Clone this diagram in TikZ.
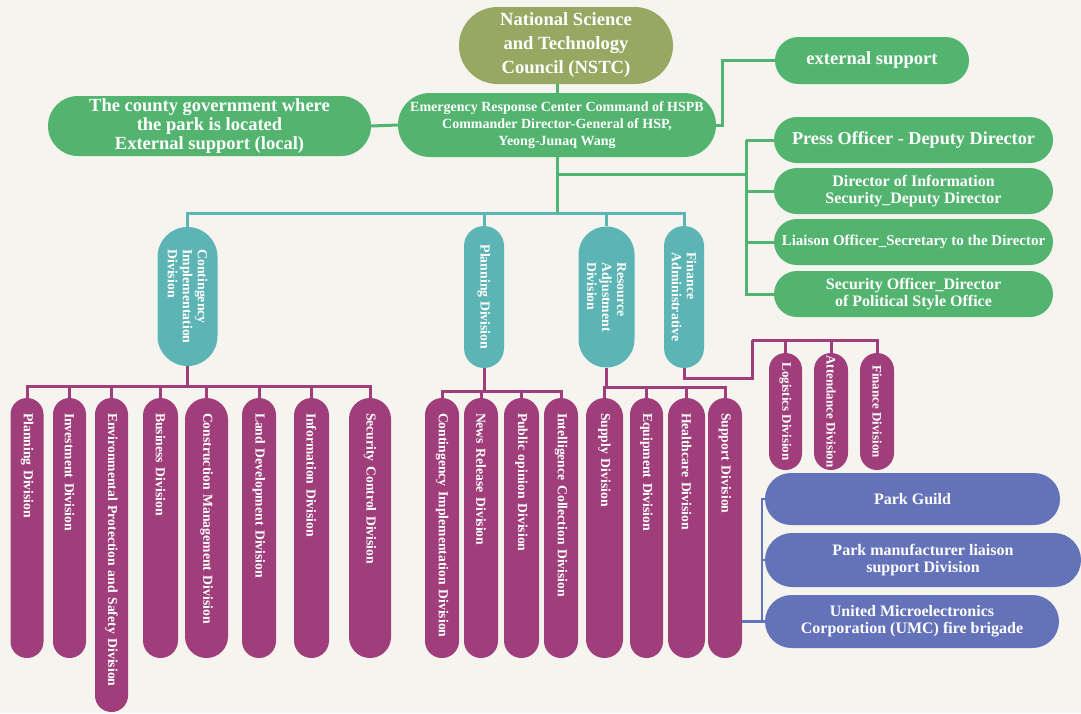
\documentclass[tikz,border=0pt]{standalone}
\usepackage{fontspec}
\setmainfont{Liberation Serif}
\definecolor{bg}{RGB}{246,244,239}
\definecolor{olv}{RGB}{151,168,98}
\definecolor{grn}{RGB}{82,180,111}
\definecolor{tea}{RGB}{92,180,181}
\definecolor{pur}{RGB}{160,62,123}
\definecolor{blu}{RGB}{99,114,185}
\tikzset{
  nd/.style={rectangle, inner sep=0pt, text=white, align=center},
  sz/.style 2 args={minimum width=#1pt, minimum height=#2pt, rounded corners={#2pt/2-0.05pt}},
  tk/.style={minimum height=#1pt, rounded corners={#1pt/2-0.05pt}},
  fs/.style 2 args={font=\bfseries\fontsize{#1}{#2}\selectfont},
  gbox/.style={nd, fill=grn},
  bbox/.style={nd, fill=blu, fs={16}{16.7}},
  vt/.style={nd, fill=tea, rotate=-90, align=left, fs={13.8}{15}},
  vp/.style={nd, fill=pur, rotate=-90, align=left, fs={13.7}{15}, inner xsep=15pt, minimum width=260pt, text width=230pt},
  vs/.style={nd, fill=pur, rotate=-90, align=left, fs={13}{15}, minimum width=117pt},
  gl/.style={draw=grn, line width=3pt},
  tl/.style={draw=tea, line width=3pt},
  pl/.style={draw=pur, line width=3pt},
  bl/.style={draw=blu, line width=2.5pt},
}
\begin{document}
\begin{tikzpicture}[x=1pt,y=-1pt]
\useasboundingbox (0,0) rectangle (1081,713);
\fill[bg] (0,0) rectangle (1081,713);

% top level
\node[nd, fill=olv, sz={214}{77}, fs={18.6}{24}] (nstc) at (566,45.5) {National Science\\and Technology\\Council (NSTC)};
\node[gbox, sz={318}{64}, fs={14}{17}] (em) at (557,125) {Emergency Response Center Command of HSPB\\Commander Director-General of HSP,\\Yeong-Junaq Wang};
\node[gbox, sz={323}{60}, fs={18.5}{19}] (cg) at (209.5,126) {The county government where\\the park is located\\External support (local)};
\node[gbox, sz={194}{47}, fs={18.5}{19}] (es) at (872,60.5) {external support};

% right green group
\node[gbox, sz={279}{46}, fs={18.2}{19}] (po) at (913.5,140) {Press Officer - Deputy Director};
\node[gbox, sz={279}{46}, fs={16}{16.5}] (di) at (913.5,191) {Director of Information\\Security\_Deputy Director};
\node[gbox, sz={279}{46}, fs={15}{16}] (lo) at (913.5,242) {Liaison Officer\_Secretary to the Director};
\node[gbox, sz={279}{46}, fs={16}{16.5}] (so) at (913.5,294) {Security Officer\_Director\\of Political Style Office};

% teal divisions
\node[vt, minimum width=139pt, tk=60] (cid) at (187.5,296.5) {Contingency\\Implementation\\Division};
\node[vt, minimum width=142pt, tk=40] (pd) at (484,297) {Planning Division};
\node[vt, minimum width=141pt, tk=56] (rad) at (606.5,297) {Resource\\Adjustment\\Division};
\node[vt, minimum width=142pt, tk=40] (fa) at (684,297) {Finance\\Administrative};

% purple under Contingency Implementation Division
\node[vp, tk=33] (p1) at (27,528) {Planning Division};
\node[vp, tk=33] (p2) at (69.5,528) {Investment Division};
\node[vp, tk=33, minimum width=314pt, text width=284pt] (p3) at (111.5,555) {Environmental Protection and Safety Division};
\node[vp, tk=35] (p4) at (160.5,528) {Business Division};
\node[vp, tk=43] (p5) at (206.5,528) {Construction Management Division};
\node[vp, tk=34] (p6) at (259,528) {Land Development Division};
\node[vp, tk=35] (p7) at (311.5,528) {Information Division};
\node[vp, tk=42] (p8) at (370,528) {Security Control Division};
% purple under Planning Division
\node[vp, tk=34] (q1) at (442,528) {Contingency Implementation Division};
\node[vp, tk=34] (q2) at (481,528) {News Release Division};
\node[vp, tk=35] (q3) at (521.5,528) {Public opinion Division};
\node[vp, tk=34] (q4) at (561,528) {Intelligence Collection Division};
% purple under Resource Adjustment Division
\node[vp, tk=37] (r1) at (604.5,528) {Supply Division};
\node[vp, tk=33] (r2) at (646.5,528) {Equipment Division};
\node[vp, tk=37] (r3) at (686.5,528) {Healthcare Division};
\node[vp, tk=34] (r4) at (725,528) {Support Division};
% purple under Finance Administrative
\node[vs, tk=33] (f1) at (785.5,411.5) {Logistics Division};
\node[vs, tk=34] (f2) at (831,411.5) {Attendance Division};
\node[vs, tk=34] (f3) at (877,411.5) {Finance Division};

% blue
\node[bbox, sz={295}{52}] (pg) at (912.5,499) {Park Guild};
\node[bbox, sz={316}{54}] (pm) at (923,560) {Park manufacturer liaison\\support Division};
\node[bbox, sz={294}{53}] (um) at (912,621.5) {United Microelectronics\\Corporation (UMC) fire brigade};

% green connectors
\draw[gl] (em.north) -- (em.north |- nstc.south);
\draw[gl] (cg.east) -- (em.west);
\draw[gl] (em.east) -- ++(6,0) |- (es.west);
\coordinate (rb) at (746,174);
\draw[gl] (em.south |- rb) -- (rb);
\draw[gl] (rb |- po.west) -- (po.west);
\draw[gl] (rb |- po.west) -- (rb |- so.west) -- (so.west);
\draw[gl] (rb |- di.west) -- (di.west);
\draw[gl] (rb |- lo.west) -- (lo.west);
\draw[gl] (em.south) -- ++(0,56) coordinate (tb);

% teal connectors
\foreach \c in {cid,pd,rad,fa} \draw[tl] (tb) -| (\c.west);

% purple connectors
\draw[pl] (cid.east) -- ++(0,20) coordinate (b1);
\foreach \c in {p1,p2,p3,p4,p5,p6,p7,p8} \draw[pl] (b1) -| (\c.west);
\draw[pl] (pd.east) -- ++(0,23) coordinate (b2);
\foreach \c in {q1,q2,q3,q4} \draw[pl] (b2) -| (\c.west);
\draw[pl] (rad.east) -- ++(0,20) coordinate (b3);
\foreach \c in {r1,r2,r3,r4} \draw[pl] (b3) -| (\c.west);
\coordinate (fb) at (752,340);
\draw[pl] (fa.east) -- ++(0,10) -| (fb);
\foreach \c in {f1,f2,f3} \draw[pl] (fb) -| (\c.west);

% blue connectors
\draw[bl] (r4.north |- um.west) -- (um.west);
\draw[bl] (pg.west) -- ++(-3,0) |- (um.west);
\draw[bl] (pm.west) -- ++(-3,0);
\end{tikzpicture}
\end{document}
